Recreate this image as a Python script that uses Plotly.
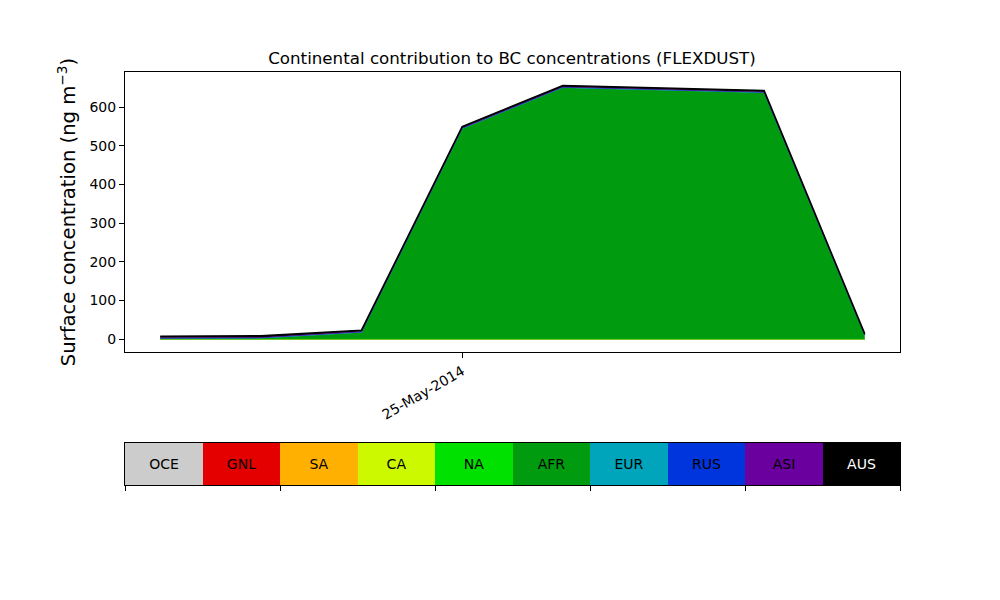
import plotly.graph_objects as go

# ---- data ----
times = ["2014-05-24 15:00", "2014-05-24 18:00", "2014-05-24 21:00", "2014-05-25 00:00",
         "2014-05-25 03:00", "2014-05-25 06:00", "2014-05-25 09:00", "2014-05-25 12:00"]
regions = ["OCE", "GNL", "SA", "CA", "NA", "AFR", "EUR", "RUS", "ASI", "AUS"]
OCE = [0.1, 0.1, 0.1, 0.1, 0.1, 0.1, 0.1, 0.1]
GNL = [0.0, 0.0, 0.0, 0.0, 0.0, 0.0, 0.0, 0.0]
SA = [0.0, 0.0, 0.0, 0.0, 0.0, 0.0, 0.0, 0.0]
CA = [0.0, 0.0, 0.0, 0.0, 0.0, 0.0, 0.0, 0.0]
NA = [0.1, 0.1, 0.1, 0.1, 0.1, 0.1, 0.1, 0.1]
AFR = [1.5, 2.5, 17.5, 544.0, 650.0, 644.0, 637.0, 10.0]
EUR = [0.3, 0.3, 0.4, 0.4, 0.4, 0.4, 0.4, 0.2]
RUS = [0.8, 0.8, 0.8, 0.8, 0.8, 0.8, 0.8, 0.4]
ASI = [1.0, 1.0, 1.0, 1.0, 1.0, 1.0, 1.0, 0.6]
AUS = [4.0, 4.0, 3.5, 3.5, 3.5, 3.5, 3.5, 2.5]
series = [OCE, GNL, SA, CA, NA, AFR, EUR, RUS, ASI, AUS]
colors = ["#cccccc", "#e50000", "#ffb000", "#ccf900", "#00e100",
          "#009b0f", "#00a4bb", "#0035dd", "#6a009d", "#000000"]
label_colors = ["black"] * 9 + ["white"]
date_tick = ["2014-05-25 00:00"]
date_tick_text = ["25-May-2014"]

FONT = "DejaVu Sans"
OFF = 8  # page body margin offset
fig = go.Figure()

for name, vals, col in zip(regions, series, colors):
    fig.add_trace(go.Scatter(
        x=times, y=vals, name=name, stackgroup="one", mode="lines",
        line=dict(color=col, width=1.6 if name == "AUS" else 0.5), fillcolor=col,
        showlegend=False, xaxis="x", yaxis="y"))

# colour legend bar
fig.add_trace(go.Bar(
    x=[i + 0.5 for i in range(len(regions))], y=[1] * len(regions), width=1,
    marker=dict(color=colors, line=dict(width=0)),
    text=regions, textposition="inside", insidetextanchor="middle",
    textfont=dict(family=FONT, size=14, color=label_colors),
    showlegend=False, xaxis="x2", yaxis="y2", hoverinfo="skip"))

axis_common = dict(showline=True, linecolor="black", linewidth=1, mirror=True,
                   showgrid=False, zeroline=False, ticks="outside", ticklen=5,
                   tickcolor="black", tickfont=dict(family=FONT, size=14, color="black"))

fig.update_layout(
    width=1000, height=600,
    margin=dict(l=125 - OFF, r=100 + OFF, t=72 - OFF, b=115 + OFF),
    paper_bgcolor="white", plot_bgcolor="white",
    font=dict(family=FONT, color="black"),
    title=dict(text="Continental contribution to BC concentrations (FLEXDUST)",
               x=(512 - OFF) / 1000, xanchor="center", y=1 - (58 - OFF) / 600, yanchor="middle",
               font=dict(family=FONT, size=16.7, color="black")),
    xaxis=dict(axis_common, type="date", domain=[0, 1], anchor="y",
               range=["2014-05-24 13:57", "2014-05-25 13:03"],
               tickvals=date_tick, ticktext=date_tick_text, tickangle=-30),
    yaxis=dict(axis_common, domain=[133 / 413, 1], anchor="x",
               range=[-32.9, 690.9], tickvals=[0, 100, 200, 300, 400, 500, 600],
               title=dict(text="Surface concentration (ng m<sup>−3</sup>)",
                          font=dict(family=FONT, size=19.6, color="black"), standoff=8)),
    xaxis2=dict(axis_common, domain=[0, 1], anchor="y2", range=[0, 10],
                tickvals=[0, 2, 4, 6, 8, 10], showticklabels=False),
    yaxis2=dict(axis_common, domain=[0, 42 / 413], anchor="x2", range=[0, 1],
                ticks="", showticklabels=False),
    bargap=0,
)

fig.write_html("out.html")
